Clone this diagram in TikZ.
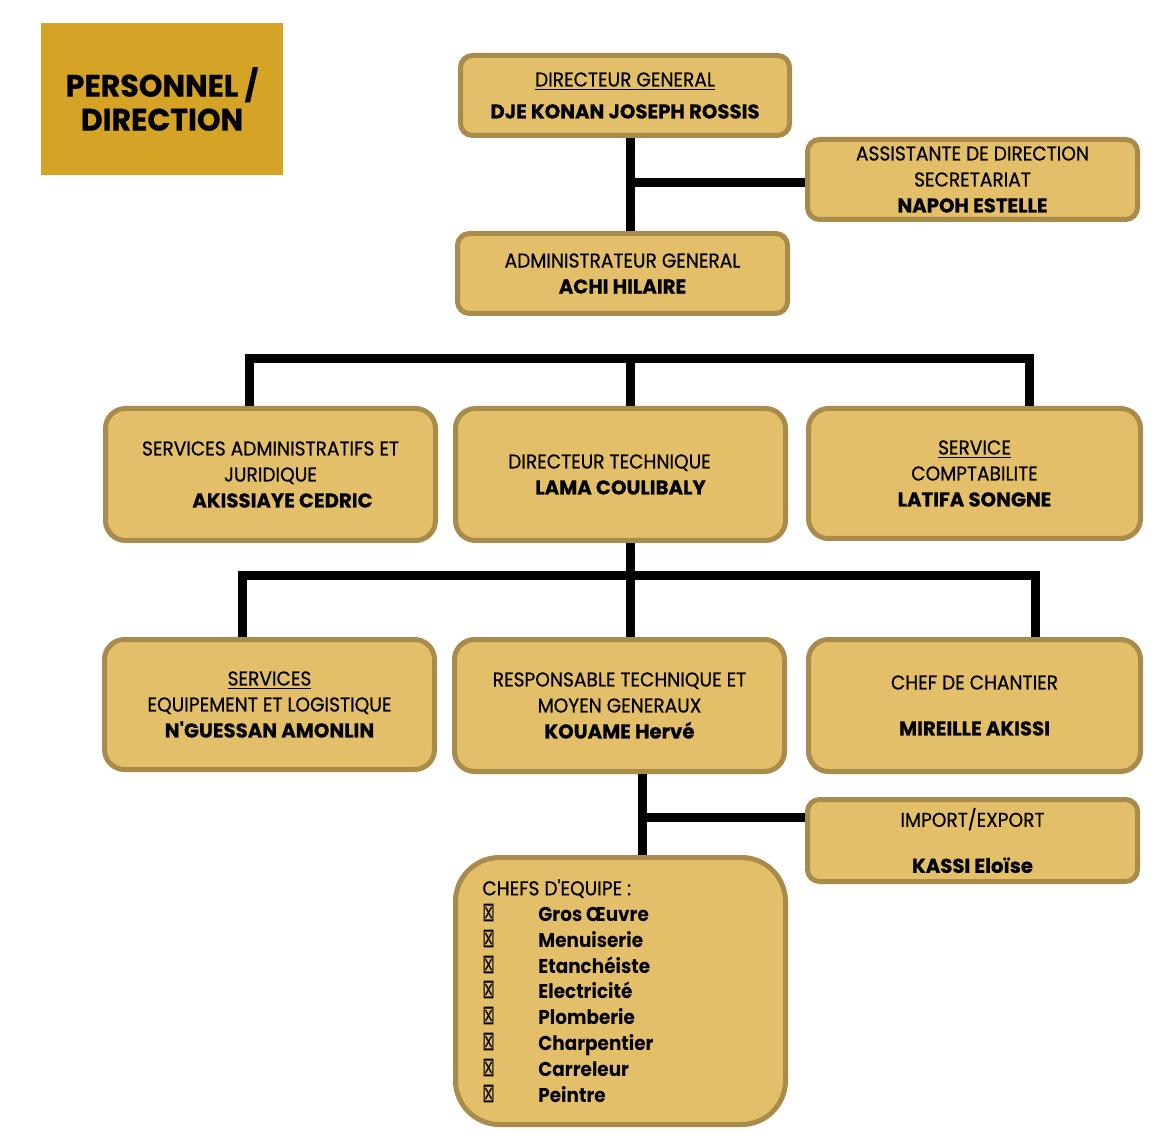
\documentclass[tikz,border=0pt]{standalone}
\usepackage{fontspec}
\setmainfont{Poppins}
\newfontfamily\popR[FakeStretch=0.93,FakeBold=0.6]{Poppins}
\newfontfamily\popB[FakeStretch=0.985,FakeBold=0.5]{Poppins}
\newfontfamily\popI[FakeStretch=0.92]{Poppins}
\newfontfamily\popT[FakeBold=0.6,FakeStretch=0.97]{Poppins}
\newfontfamily\dejavu{DejaVu Sans}
\definecolor{titlefill}{RGB}{213,163,38}
\definecolor{boxfill}{RGB}{227,191,106}
\definecolor{boxline}{RGB}{169,139,76}
\newcommand{\nm}[1]{{\popB\bfseries #1}}
\newcommand{\itm}[1]{{\popI\bfseries #1}}
\newcommand{\bul}{\makebox[28pt][l]{\dejavu\scalebox{0.75}[1.35]{⊠}}}
\tikzset{
  orgbox/.style={draw=boxline, fill=boxfill, line width=2.5pt, rounded corners=6pt,
    minimum width=164.5pt, minimum height=40pt, align=center, inner sep=0pt,
    font=\popR\fontsize{10}{13}\selectfont, text=black},
  bigbox/.style={orgbox, rounded corners=10pt, minimum height=66pt},
  link/.style={draw=black, line width=4.5pt}
}
\begin{document}
\begin{tikzpicture}[x=0.5pt,y=-0.5pt]
\useasboundingbox[fill=white] (0,0) rectangle (1176,1143);
% title
\node[fill=titlefill, minimum width=121pt, minimum height=76pt, inner sep=0pt, align=center,
  font=\popT\bfseries\fontsize{15.5}{17}\selectfont] (title) at (162,99) {PERSONNEL /\\DIRECTION};
% top
\node[orgbox] (dg) at (625,95.5) {\underline{DIRECTEUR GENERAL}\\[3pt]\nm{DJE KONAN JOSEPH ROSSIS}};
\node[orgbox, minimum width=165pt] (asst) at (972.5,179.5) {ASSISTANTE DE DIRECTION\\SECRETARIAT\\\nm{NAPOH ESTELLE}};
\node[orgbox, minimum width=165pt] (ag) at (622.5,273.5) {ADMINISTRATEUR GENERAL\\\nm{ACHI HILAIRE}};
% row 2
\node[bigbox, minimum width=165pt] (saj) at (270.5,474.5) {SERVICES ADMINISTRATIFS ET\\JURIDIQUE\\\hspace*{12pt}\nm{AKISSIAYE CEDRIC}};
\node[bigbox, minimum width=165pt] (dt) at (620.5,474.5) {DIRECTEUR TECHNIQUE\hspace*{11pt}\\\nm{LAMA COULIBALY}};
\node[bigbox, minimum width=166pt, minimum height=65pt] (sc) at (974.5,473.5) {\underline{SERVICE}\\COMPTABILITE\\\nm{LATIFA SONGNE}};
% row 3
\node[bigbox, minimum width=165pt, minimum height=65pt] (sel) at (269.5,704.5) {\underline{SERVICES}\\EQUIPEMENT ET LOGISTIQUE\\\nm{N'GUESSAN AMONLIN}};
\node[bigbox, minimum width=165pt] (rt) at (619.5,705.5) {RESPONSABLE TECHNIQUE ET\\MOYEN GENERAUX\\\nm{KOUAME Hervé}};
\node[bigbox, minimum width=166pt] (cc) at (974.5,705.5) {CHEF DE CHANTIER\\[10pt]\nm{MIREILLE AKISSI}};
\node[orgbox, minimum width=165pt, minimum height=41pt] (ie) at (972.5,840.5) {IMPORT/EXPORT\\[10pt]\nm{KASSI Eloïse}};
% chefs
\node[orgbox, rounded corners=22pt, minimum width=165pt, minimum height=133.5pt] (chefs) at (620.5,991) {};
\node[anchor=north west, inner sep=0pt, align=left, font=\popR\fontsize{10}{12.95}\selectfont] (chefstext) at (482,879)
 {CHEFS D'EQUIPE :\\
  \bul\itm{Gros Œuvre}\\
  \bul\itm{Menuiserie}\\
  \bul\itm{Etanchéiste}\\
  \bul\itm{Electricité}\\
  \bul\itm{Plomberie}\\
  \bul\itm{Charpentier}\\
  \bul\itm{Carreleur}\\
  \bul\itm{Peintre}};
% connectors
\coordinate (j1) at (630,183);
\draw[link] (dg.south -| j1) -- (ag.north -| j1);
\draw[link] (j1) -- (asst.west |- j1);
\coordinate (b1l) at (249,359);
\coordinate (b1m) at (630,359);
\coordinate (b1r) at (1029,359);
\draw[link] (saj.north -| b1l) -- (b1l) -- (b1r) -- (sc.north -| b1r);
\draw[link] (b1m) -- (dt.north -| b1m);
\coordinate (b2l) at (242,575);
\coordinate (b2m) at (630,575);
\coordinate (b2r) at (1035,575);
\draw[link] (dt.south -| b2m) -- (rt.north -| b2m);
\draw[link] (sel.north -| b2l) -- (b2l) -- (b2r) -- (cc.north -| b2r);
\coordinate (j3) at (642,817);
\draw[link] (rt.south -| j3) -- (chefs.north -| j3);
\draw[link] (j3) -- (ie.west |- j3);
\end{tikzpicture}
\end{document}
